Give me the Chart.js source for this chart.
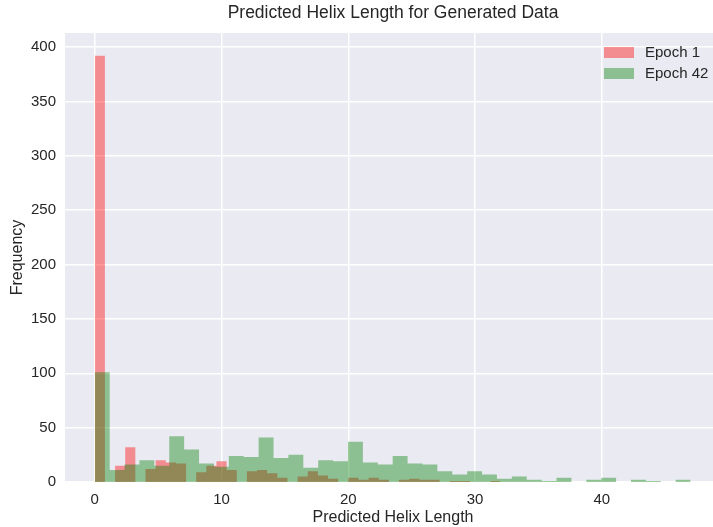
<!DOCTYPE html>
<html>
<head>
<meta charset="utf-8">
<script src="https://cdn.jsdelivr.net/npm/chart.js@4/dist/chart.umd.min.js"></script>
<style>
html, body { margin: 0; padding: 0; overflow: hidden; background: #fff; }
#wrap { width: 721px; height: 527px; }
</style>
</head>
<body>
<div id="wrap"><canvas id="chart"></canvas></div>
<script>
// histogram data, 40 bins per series
var series_labels = ['Epoch 1', 'Epoch 42'];
var epoch1_range = [0, 32];
var epoch42_range = [0, 47];
var epoch1_counts = [392, 0, 15, 32, 0, 12, 20, 18, 17, 0,
                     9, 15, 19, 11, 0, 10, 11, 8, 4, 0,
                     5, 10, 6, 3, 0, 4, 2, 4, 2, 0,
                     2, 3, 2, 2, 0, 1, 1, 0, 0, 1];
var epoch42_counts = [101, 11, 16, 20, 15, 42, 30, 17, 14, 24,
                      23, 41, 22, 25, 13, 20, 19, 37, 18, 16,
                      24, 17, 16, 10, 7, 10, 7, 3, 5, 2,
                      1, 4, 0, 2, 4, 0, 2, 1, 0, 2];
var x_ticks = [0, 10, 20, 30, 40];
var y_ticks = [0, 50, 100, 150, 200, 250, 300, 350, 400];

// bin edges -> points for a stepped, filled line
function steps(range, counts) {
  var w = (range[1] - range[0]) / counts.length;
  var pts = counts.map(function(c, i) { return {x: range[0] + i * w, y: c}; });
  pts.push({x: range[1], y: counts[counts.length - 1]});
  return pts;
}

var FONT = '"Liberation Sans", Arial, sans-serif';
Chart.defaults.font.family = FONT;
Chart.defaults.color = '#262626';

var bgPlugin = {
  id: 'bg',
  beforeDraw: function(chart) {
    var a = chart.chartArea, ctx = chart.ctx;
    ctx.save();
    ctx.fillStyle = '#EAEAF2';
    ctx.fillRect(a.left, a.top, a.right - a.left, a.bottom - a.top);
    ctx.restore();
  }
};

var legendPlugin = {
  id: 'insideLegend',
  afterDraw: function(chart) {
    var a = chart.chartArea, ctx = chart.ctx;
    ctx.save();
    ctx.font = '15px ' + FONT;
    ctx.textBaseline = 'middle';
    chart.data.datasets.forEach(function(ds, i) {
      var y = a.top + 20 + i * 21;
      ctx.fillStyle = ds.backgroundColor;
      ctx.fillRect(a.right - 117, y - 6, 30, 11);
      ctx.fillStyle = '#262626';
      ctx.fillText(ds.label, a.right - 76, y);
    });
    ctx.restore();
  }
};

var myChart = new Chart(document.getElementById('chart'), {
  type: 'line',
  data: {
    datasets: [
      {
        label: series_labels[0],
        data: steps(epoch1_range, epoch1_counts),
        backgroundColor: 'rgba(255, 0, 0, 0.4)',
        borderWidth: 0,
        pointRadius: 0,
        stepped: true,
        fill: 'origin',
        order: 1
      },
      {
        label: series_labels[1],
        data: steps(epoch42_range, epoch42_counts),
        backgroundColor: 'rgba(0, 128, 0, 0.4)',
        borderWidth: 0,
        pointRadius: 0,
        stepped: true,
        fill: 'origin',
        order: 0
      }
    ]
  },
  options: {
    responsive: true,
    maintainAspectRatio: false,
    animation: false,
    layout: { padding: 0 },
    plugins: {
      legend: { display: false },
      tooltip: { enabled: false },
      title: {
        display: true,
        fullSize: false,
        text: 'Predicted Helix Length for Generated Data',
        font: { size: 17.5, weight: 'normal' },
        color: '#262626',
        padding: { top: 3, bottom: 9 }
      }
    },
    scales: {
      x: {
        type: 'linear',
        min: -2.35,
        max: 49.4,
        afterBuildTicks: function(s) { s.ticks = x_ticks.map(function(v) { return {value: v}; }); },
        afterFit: function(s) { s.height = 45; },
        grid: { color: '#ffffff', lineWidth: 1.5, drawTicks: false },
        border: { display: false },
        ticks: { padding: 9, font: { size: 15 }, color: '#262626' },
        title: { display: true, text: 'Predicted Helix Length', font: { size: 16 }, color: '#262626', padding: 0 }
      },
      y: {
        min: 0,
        max: 413,
        afterBuildTicks: function(s) { s.ticks = y_ticks.map(function(v) { return {value: v}; }); },
        afterFit: function(s) { s.width = 65; },
        grid: { color: '#ffffff', lineWidth: 1.5, drawTicks: false },
        border: { display: false },
        ticks: { padding: 9, font: { size: 15 }, color: '#262626' },
        title: { display: true, text: 'Frequency', font: { size: 16 }, color: '#262626', padding: { top: 8, bottom: 0 } }
      }
    }
  },
  plugins: [bgPlugin, legendPlugin]
});
</script>
</body>
</html>
